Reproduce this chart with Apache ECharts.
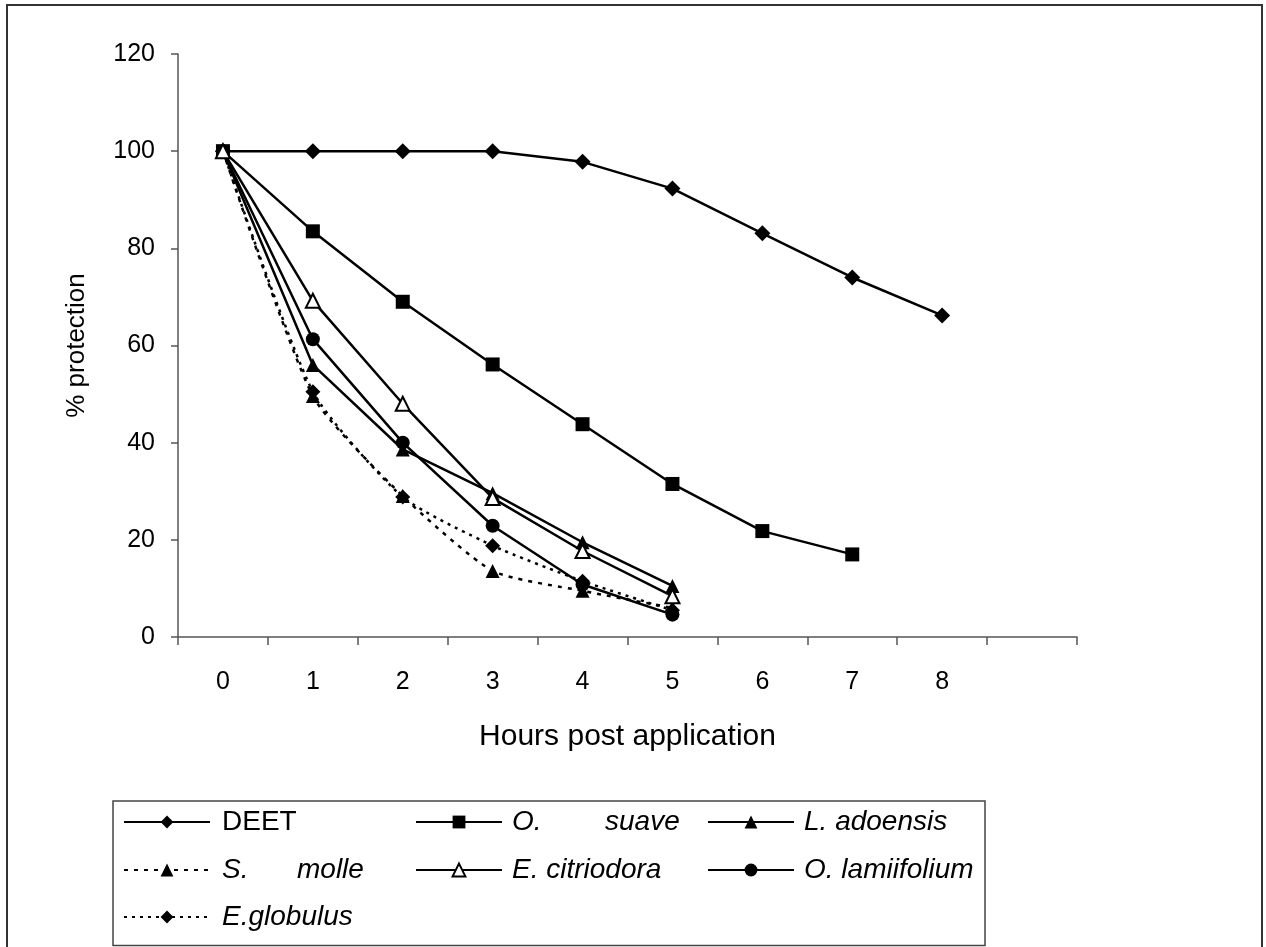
<!DOCTYPE html>
<html>
<head>
<meta charset="utf-8">
<script src="https://cdn.jsdelivr.net/npm/echarts@6/dist/echarts.min.js"></script>
<style>
html,body{margin:0;padding:0;background:#fff;}
#chart{width:1266px;height:947px;}
</style>
</head>
<body>
<div id="chart"></div>
<script>
var categories = ['0','1','2','3','4','5','6','7','8',''];
var deet = [100,100,100,100,97.8,92.3,83.1,74.0,66.2];
var oSuave = [100,83.5,69.0,56.1,43.8,31.5,21.8,17.0];
var lAdoensis = [100,56.0,38.6,29.6,19.5,10.5];
var sMolle = [100,49.6,29.0,13.6,9.5,6.0];
var eCitriodora = [100,69.2,48.0,28.6,17.7,8.4];
var oLamiifolium = [100,61.3,40.0,22.9,10.8,4.6];
var eGlobulus = [100,50.5,28.8,18.8,11.5,5.5];

var FONT = '"Liberation Sans", Arial, sans-serif';
var chart = echarts.init(document.getElementById('chart'));

function lineSeries(name, data, symbol, opts) {
  opts = opts || {};
  return {
    name: name, type: 'line', data: data,
    symbol: symbol, symbolSize: opts.size || 14,
    smooth: opts.smooth || false,
    lineStyle: {color: '#000', width: 2.5, type: opts.dash || 'solid'},
    itemStyle: opts.open ? {color: '#fff', borderColor: '#000', borderWidth: 2} : {color: '#000', borderColor:'#000', borderWidth: 0},
    emphasis: {disabled: true},
    animation: false,
    z: opts.z || 2
  };
}

var LEG_FS = 28;
function legendAt(name, left, top, italic, gap, parts, firstWidth) {
  var rich = {
    sp: {width: gap, fontSize: LEG_FS},
    t: {fontFamily: FONT, fontSize: LEG_FS, color: '#000', fontStyle: italic ? 'italic' : 'normal'},
    a: {fontFamily: FONT, fontSize: LEG_FS, color: '#000', fontStyle: 'italic', width: firstWidth || 0}
  };
  return {
    data: [name], left: left, top: top, padding: 0,
    itemWidth: 86, itemHeight: 16, itemGap: 0,
    selectedMode: false,
    textStyle: {fontFamily: FONT, fontSize: LEG_FS, color: '#000', rich: rich},
    formatter: function(){
      if (parts) return '{sp|}{a|' + parts[0] + '}{t|' + parts[1] + '}';
      return '{sp|}{t|' + name + '}';
    }
  };
}

var option = {
  backgroundColor: '#fff',
  animation: false,
  grid: {left: 178, right: 189, top: 54, bottom: 310, containLabel: false},
  xAxis: {
    type: 'category', data: categories, boundaryGap: true,
    axisLine: {lineStyle: {color: '#555', width: 1.5}},
    axisTick: {show: true, inside: false, length: 8, lineStyle: {color: '#555', width: 1.5}},
    axisLabel: {fontFamily: FONT, fontSize: 25, color: '#000', margin: 33},
    name: 'Hours post application', nameLocation: 'middle', nameGap: 85,
    nameTextStyle: {fontFamily: FONT, fontSize: 30, color: '#000'}
  },
  yAxis: {
    type: 'value', min: 0, max: 120, interval: 20,
    splitLine: {show: false},
    axisLine: {show: true, lineStyle: {color: '#555', width: 1.5}},
    axisTick: {show: true, inside: false, length: 7, lineStyle: {color: '#555', width: 1.5}},
    axisLabel: {fontFamily: FONT, fontSize: 25, color: '#000', margin: 23},
    name: '% protection', nameLocation: 'middle', nameGap: 88,
    nameTextStyle: {fontFamily: FONT, fontSize: 26, color: '#000'}
  },
  legend: [
    legendAt('DEET', 123, 808, false, 7),
    legendAt('O. suave', 415, 808, true, 5, ['O.', 'suave'], 93),
    legendAt('L. adoensis', 707, 808, true, 5),
    legendAt('S. molle', 123, 856, true, 7, ['S.', 'molle'], 75),
    legendAt('E. citriodora', 415, 856, true, 5),
    legendAt('O. lamiifolium', 707, 856, true, 5),
    legendAt('E.globulus', 123, 903, true, 7)
  ],
  graphic: [
    {type: 'rect', shape: {x: 7, y: 5, width: 1255, height: 960}, style: {fill: 'none', stroke: '#333', lineWidth: 2}, silent: true},
    {type: 'rect', shape: {x: 113, y: 801, width: 872, height: 144.5}, style: {fill: 'none', stroke: '#444', lineWidth: 1.5}, silent: true}
  ],
  series: [
    lineSeries('DEET', deet, 'diamond', {size: 16}),
    lineSeries('O. suave', oSuave, 'rect', {size: 14}),
    lineSeries('L. adoensis', lAdoensis, 'triangle', {size: 14}),
    lineSeries('S. molle', sMolle, 'triangle', {size: 14, dash: [4,6], smooth: 0.2}),
    lineSeries('E. citriodora', eCitriodora, 'triangle', {size: 14, open: true, z: 3}),
    lineSeries('O. lamiifolium', oLamiifolium, 'circle', {size: 14}),
    lineSeries('E.globulus', eGlobulus, 'diamond', {size: 15, dash: [3,5], smooth: 0.2})
  ]
};
chart.setOption(option);
</script>
</body>
</html>
